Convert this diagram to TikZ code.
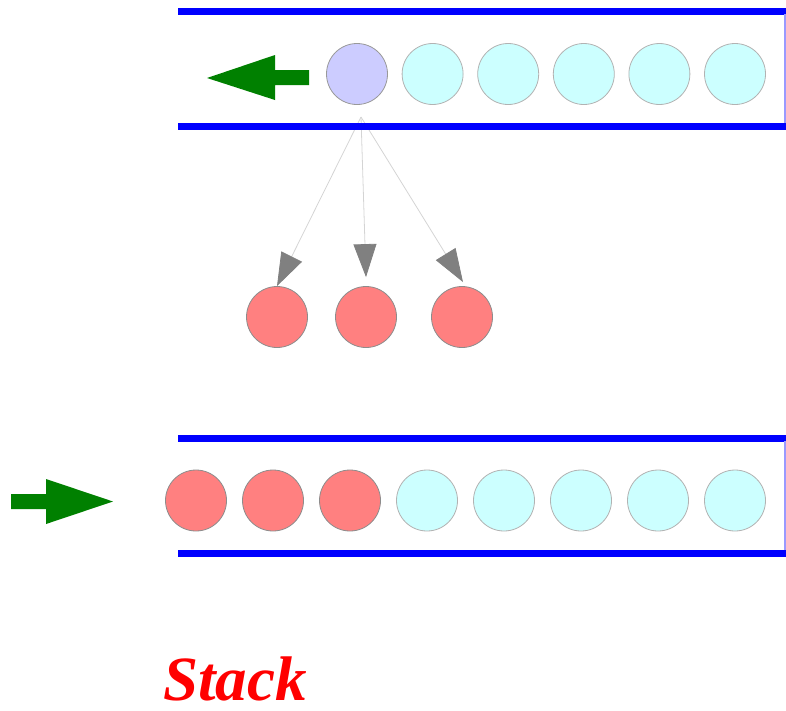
\documentclass[tikz,border=0pt]{standalone}
\usepackage{fontspec}
\setmainfont{Liberation Serif}
\usepackage{tikz}
\usetikzlibrary{arrows.meta}
\definecolor{barblue}{HTML}{0000FF}
\definecolor{edgeblue}{HTML}{9999FF}
\definecolor{pushgreen}{HTML}{008000}
\definecolor{topball}{HTML}{CCCCFF}
\definecolor{oldball}{HTML}{CCFFFF}
\definecolor{newball}{HTML}{FF8080}
\definecolor{tipgray}{HTML}{808080}
\definecolor{linegray}{HTML}{D4D4D4}
\tikzset{>={Triangle[length=33pt,width=23pt,color=tipgray]}}
\tikzset{ball/.style={circle,minimum size=61pt,inner sep=0pt,line width=0.8pt}}

\begin{document}
\begin{tikzpicture}[x=1pt,y=-1pt]

  \useasboundingbox (0,0) rectangle (786,710);

  \newcommand\Dt{75.6};
  \newcommand\Db{77};

  %% top stack: pop
  \node[ball,fill=topball,draw=gray!80](t1) at (357,74) {};
  \node[ball,fill=oldball,draw=gray!60](t2) at (357+1*\Dt,74) {};
  \node[ball,fill=oldball,draw=gray!60](t3) at (357+2*\Dt,74) {};
  \node[ball,fill=oldball,draw=gray!60](t4) at (357+3*\Dt,74) {};
  \node[ball,fill=oldball,draw=gray!60](t5) at (357+4*\Dt,74) {};
  \node[ball,fill=oldball,draw=gray!60](t6) at (357+5*\Dt,74) {};

  %% popped items
  \node[ball,fill=newball,draw=gray!90](r1) at (277,317) {};
  \node[ball,fill=newball,draw=gray!90](r2) at (366,317) {};
  \node[ball,fill=newball,draw=gray!90](r3) at (462,317) {};

  \coordinate (src) at (361,117);
  \draw[->,linegray,line width=0.8pt](src) -- (r1.north); %% t1 -> r1
  \draw[->,linegray,line width=0.8pt](src) -- ([yshift=9pt]r2.north); %% t1 -> r2
  \draw[->,linegray,line width=0.8pt](src) -- ([yshift=4pt,xshift=1pt]r3.north); %% t1 -> r3

  \draw[barblue,line width=7pt](178,11) -- (786,11);
  \draw[barblue,line width=7pt](178,126.5) -- (786,126.5);
  \draw[edgeblue,line width=1.2pt](785,14) -- (785,123);

  \fill[pushgreen](207,78) -- (275,55) -- (275,70) -- (309,70)
  -- (309,85) -- (275,85) -- (275,100) -- cycle;

  %% bottom stack: push
  \node[ball,fill=newball,draw=gray!90](b1) at (196,500.5) {};
  \node[ball,fill=newball,draw=gray!90](b2) at (196+1*\Db,500.5) {};
  \node[ball,fill=newball,draw=gray!90](b3) at (196+2*\Db,500.5) {};
  \node[ball,fill=oldball,draw=gray!60](b4) at (196+3*\Db,500.5) {};
  \node[ball,fill=oldball,draw=gray!60](b5) at (196+4*\Db,500.5) {};
  \node[ball,fill=oldball,draw=gray!60](b6) at (196+5*\Db,500.5) {};
  \node[ball,fill=oldball,draw=gray!60](b7) at (196+6*\Db,500.5) {};
  \node[ball,fill=oldball,draw=gray!60](b8) at (196+7*\Db,500.5) {};

  \draw[barblue,line width=7pt](178,438) -- (786,438);
  \draw[barblue,line width=7pt](178,553) -- (786,553);
  \draw[edgeblue,line width=1.2pt](785,441) -- (785,550);

  \fill[pushgreen](113,501.5) -- (46,479) -- (46,494) -- (11,494)
  -- (11,509) -- (46,509) -- (46,524) -- cycle;

  \node[anchor=base,text=red,font=\fontsize{63}{63}\selectfont\bfseries\itshape,inner sep=0pt]
  (title) at (235,700) {Stack};

\end{tikzpicture}
\end{document}
